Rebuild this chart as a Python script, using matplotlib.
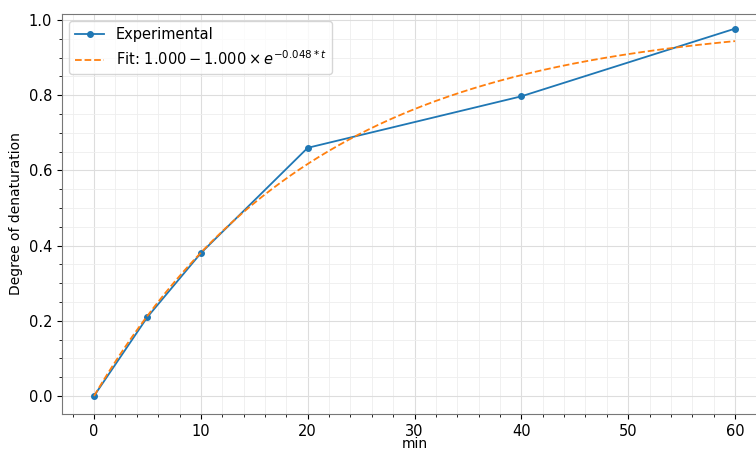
import numpy as np
import matplotlib.pyplot as plt
from matplotlib.ticker import AutoMinorLocator

# data percobaan
t_exp = [0, 5, 10, 20, 40, 60]
deg_exp = [0.0, 0.21, 0.38, 0.66, 0.797, 0.977]

# parameter fit dari legend
fit_a = 1.000
fit_b = 1.000
fit_k = 0.048

t_fit = np.linspace(0, 60, 200)
deg_fit = fit_a - fit_b * np.exp(-fit_k * t_fit)

fig = plt.figure(figsize=(7.56, 4.5), dpi=100)
ax = fig.add_axes([62 / 756, 36 / 450, 705 / 756, 400 / 450])

ax.plot(t_exp, deg_exp, marker='o', markersize=4, color='#1f77b4', linewidth=1.3, label='Experimental')
ax.plot(t_fit, deg_fit, linestyle='--', color='#ff7f0e', linewidth=1.3,
        label=r'Fit: $1.000 - 1.000 \times e^{-0.048 * t}$')

ax.set_xlim(-3, 63)
ax.set_ylim(-0.048, 1.016)
ax.set_xlabel('min', fontsize=10, labelpad=-1)
ax.set_ylabel('Degree of denaturation', fontsize=10)
ax.tick_params(labelsize=10.5)

ax.xaxis.set_minor_locator(AutoMinorLocator(5))
ax.yaxis.set_minor_locator(AutoMinorLocator(4))
ax.grid(True, which='major', color='#dddddd', linewidth=0.8)
ax.grid(True, which='minor', color='#eeeeee', linewidth=0.6)
for s in ax.spines.values():
    s.set_color('#777777')

ax.legend(loc='upper left', fontsize=10.5, framealpha=0.8)

fig.savefig('out.png', dpi=100)
